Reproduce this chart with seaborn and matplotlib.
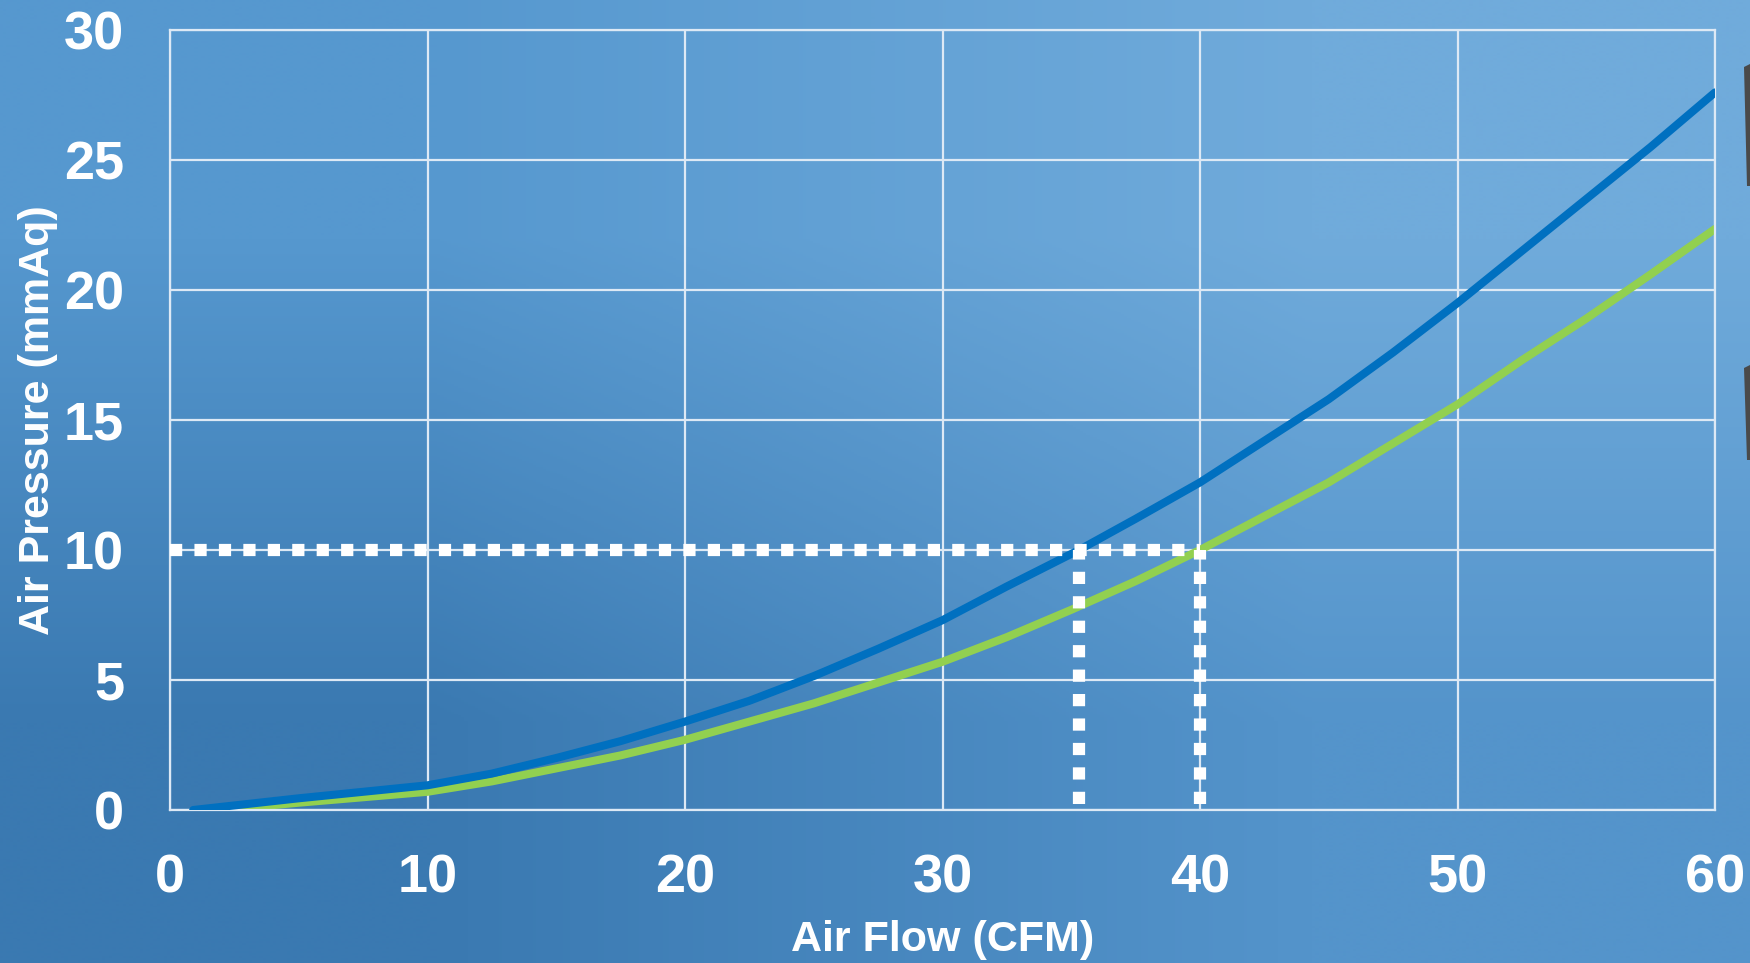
import numpy as np
import matplotlib
matplotlib.use("Agg")
import matplotlib.pyplot as plt
import seaborn as sns
import pandas as pd
from matplotlib.patches import Polygon

# ---- data ----
blue_flow = [0.9, 5, 10, 12.5, 15, 17.5, 20, 22.5, 25, 27.5, 30, 32.5, 35.3, 37.5, 40,
             42.5, 45, 47.5, 50, 52.5, 55, 57.5, 60]
blue_pressure = [0.0, 0.45, 0.95, 1.4, 2.0, 2.65, 3.4, 4.2, 5.15, 6.2, 7.3, 8.6, 10.0, 11.2, 12.6,
                 14.2, 15.8, 17.6, 19.5, 21.5, 23.5, 25.5, 27.6]
green_flow = [2, 5, 10, 12.5, 15, 17.5, 20, 22.5, 25, 27.5, 30, 32.5, 35, 37.5, 40,
              42.5, 45, 47.5, 50, 52.5, 55, 57.5, 60]
green_pressure = [0.0, 0.28, 0.7, 1.1, 1.6, 2.1, 2.7, 3.4, 4.1, 4.9, 5.7, 6.65, 7.7, 8.8, 10.0,
                  11.3, 12.6, 14.1, 15.6, 17.3, 18.9, 20.6, 22.35]
ref_pressure = 10
ref_flows = [35.3, 40]
x_ticks = [0, 10, 20, 30, 40, 50, 60]
y_ticks = [0, 5, 10, 15, 20, 25, 30]
x_label = "Air Flow (CFM)"
y_label = "Air Pressure (mmAq)"

sns.set_style("white")
plt.rcParams['font.family'] = ['Liberation Sans', 'DejaVu Sans']
plt.rcParams['font.weight'] = 'bold'

fig = plt.figure(figsize=(17.5, 9.63), dpi=100)

# background gradient
bg = fig.add_axes([0, 0, 1, 1], zorder=-10)
corners = np.array([[[0x56, 0x98, 0xcf], [0x70, 0xab, 0xdb]],
                    [[0x3a, 0x79, 0xb1], [0x54, 0x94, 0xcb]]]) / 255.0
bg.imshow(corners, extent=[0, 1, 0, 1], aspect='auto', interpolation='bilinear')
bg.set_xlim(0, 1); bg.set_ylim(0, 1)
bg.axis('off')
# partial dark product photo at right edge
for (y0, y1) in [(67, 186), (368, 460)]:
    poly = Polygon([[1744/1750, 1 - y0/963], [1750/1750, 1 - (y0 - 3)/963],
                    [1750/1750, 1 - y1/963], [1747/1750, 1 - y1/963]],
                   closed=True, transform=fig.transFigure, facecolor='#4a4a4a',
                   edgecolor='none', zorder=-5)
    fig.patches.append(poly)

ax = fig.add_axes([170/1750, 1 - 810/963, 1545/1750, 780/963])
ax.set_facecolor('none')

grid_c = '#dde9f5'
df_b = pd.DataFrame({'flow': blue_flow, 'pressure': blue_pressure})
df_g = pd.DataFrame({'flow': green_flow, 'pressure': green_pressure})
sns.lineplot(data=df_b, x='flow', y='pressure', ax=ax, color='#0070c0', linewidth=5.8,
             solid_capstyle='round', solid_joinstyle='round', zorder=3)
sns.lineplot(data=df_g, x='flow', y='pressure', ax=ax, color='#92d050', linewidth=5.8,
             solid_capstyle='round', solid_joinstyle='round', zorder=2)

dot_kw = dict(color='white', linewidth=8.8, linestyle=(0, (1, 1)),
              dash_capstyle='butt', zorder=5)
ax.plot([0, ref_flows[-1]], [ref_pressure, ref_pressure], **dot_kw)
for f in ref_flows:
    ax.plot([f, f], [0.25, ref_pressure], **dot_kw)

ax.set_xlim(0, 60)
ax.set_ylim(0, 30)
ax.set_xticks(x_ticks)
ax.set_yticks(y_ticks)
ax.grid(True, color=grid_c, linewidth=1.6)
ax.set_axisbelow(True)
for s in ax.spines.values():
    s.set_visible(True)
    s.set_color(grid_c)
    s.set_linewidth(1.6)
ax.tick_params(axis='both', length=0, labelsize=39, labelcolor='white')
ax.tick_params(axis='x', pad=31)
ax.tick_params(axis='y', pad=33)
for t in ax.get_xticklabels() + ax.get_yticklabels():
    t.set_fontweight('bold')

ax.set_xlabel(x_label, fontsize=31, fontweight='bold', color='white')
ax.set_ylabel(y_label, fontsize=31, fontweight='bold', color='white')
ax.xaxis.set_label_coords(0.5, (810 - 920) / 780)
ax.yaxis.set_label_coords((58 - 170) / 1545, 0.5)

fig.savefig('out.png', dpi=100)
